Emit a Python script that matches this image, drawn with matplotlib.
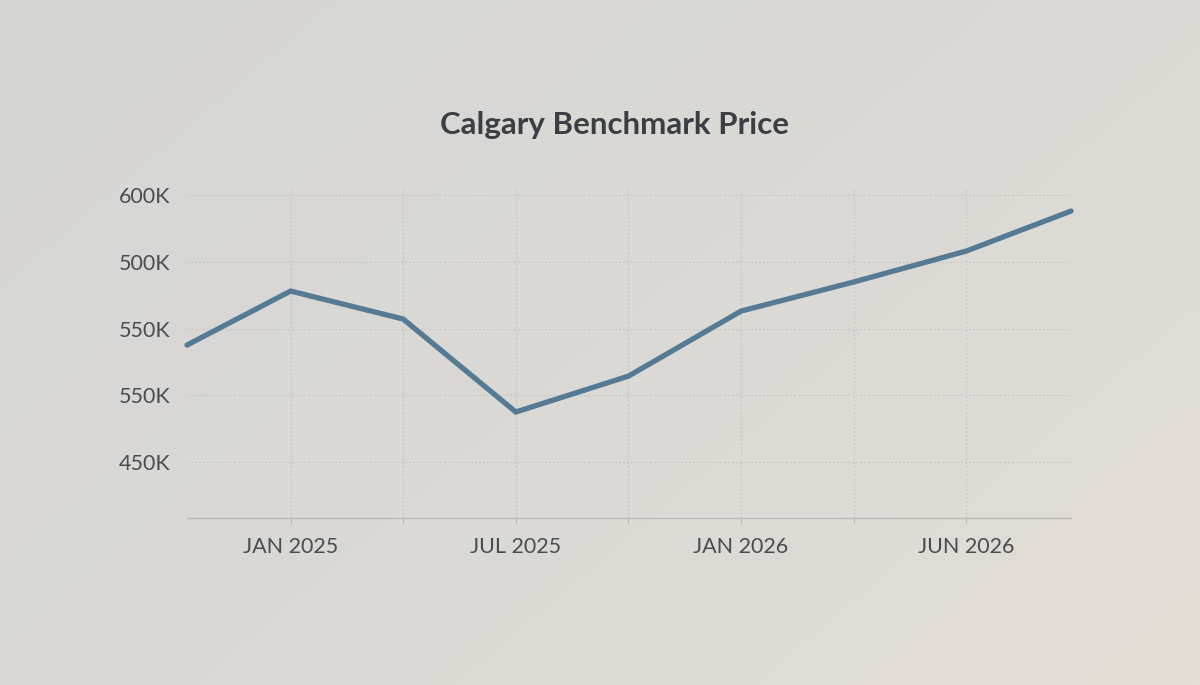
import numpy as np
import matplotlib
matplotlib.use("Agg")
import matplotlib.pyplot as plt
from matplotlib.colors import LinearSegmentedColormap

# Data (values in thousands)
x_pos = [0.08, 1, 2, 3, 4, 5, 6, 7, 7.93]
prices = [537.7, 578.2, 557.2, 487.5, 514.4, 563.2, 585.0, 608.2, 638.2]
x_tick_pos = [1, 2, 3, 4, 5, 6, 7]
x_tick_labels = ["JAN 2025", "", "JUL 2025", "", "JAN 2026", "", "JUN 2026"]
y_tick_vals = [450, 500, 550, 600, 650]
y_tick_labels = ["450K", "550K", "550K", "500K", "600K"]
title = "Calgary Benchmark Price"

plt.rcParams['font.family'] = ['Lato', 'DejaVu Sans']

fig = plt.figure(figsize=(12, 6.85), dpi=100)

# gradient background
bg = fig.add_axes([0, 0, 1, 1], zorder=-10)
gx, gy = np.meshgrid(np.linspace(0, 1, 300), np.linspace(0, 1, 200))
t = np.clip(0.6 * gx + 0.4 * gy, 0, 1)
cmap = LinearSegmentedColormap.from_list("bg", ["#d6d6d5", "#dad9d6", "#e3ddd5"])
bg.imshow(t, cmap=cmap, aspect='auto', extent=[0, 1, 0, 1], origin='upper', vmin=0, vmax=1)
bg.axis('off')

ax = fig.add_axes([187/1200, 1 - 518/685, (1071-187)/1200, (518-190)/685])
ax.patch.set_alpha(0)
ax.plot(x_pos, prices, color="#557a94", lw=3.8, solid_capstyle='round', solid_joinstyle='miter', zorder=3, clip_on=False)

ax.set_xlim(0.08, 7.93)
ax.set_ylim(408, 654)
ax.set_xticks(x_tick_pos)
ax.set_xticklabels(x_tick_labels)
ax.set_yticks(y_tick_vals)
ax.set_yticklabels(y_tick_labels)

for s in ['top', 'right', 'left']:
    ax.spines[s].set_visible(False)
ax.spines['bottom'].set_color('#bdbcba')
ax.spines['bottom'].set_linewidth(1.0)

ax.tick_params(axis='x', length=4, color='#bdbcba', pad=10, labelsize=15.5, labelcolor='#4a4d50')
ax.tick_params(axis='y', length=0, pad=12, labelsize=15.5, labelcolor='#4a4d50')

ax.grid(True, color='#c4c3c1', lw=0.8, ls=(0, (1.5, 2)))
ax.set_axisbelow(True)

fig.text(614/1200, 1 - 125/685, title, ha='center', va='center', fontsize=22.5,
         fontweight='bold', color='#3b3f44')

fig.savefig("out.png", dpi=100)
